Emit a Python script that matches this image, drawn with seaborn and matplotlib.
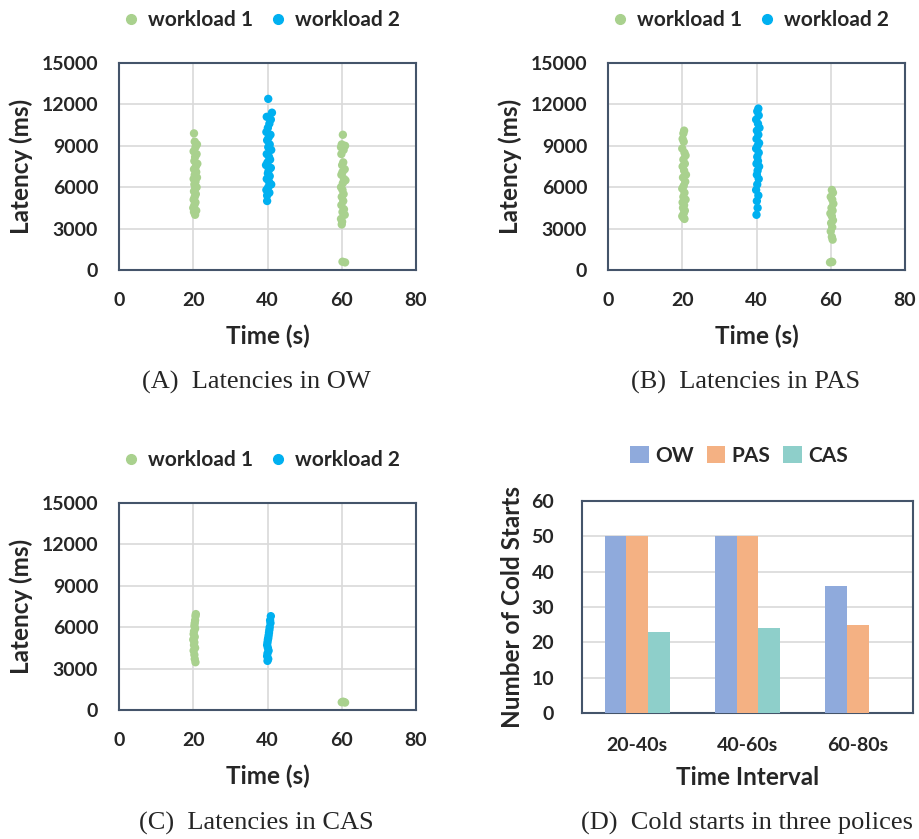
import numpy as np
import pandas as pd
import seaborn as sns
import matplotlib
matplotlib.use("Agg")
import matplotlib.pyplot as plt
from matplotlib.lines import Line2D
from matplotlib.patches import Patch

# ---------------- data ----------------
# Panel A (OW)
a_w1_t20 = [20.2, 20.4, 21.0, 20.6, 20.1, 20.9, 20.5, 20.3, 21.1, 20.7, 20.2, 20.8, 20.4, 21.0, 20.1,
            20.6, 20.3, 20.9, 20.5, 20.2, 20.7, 20.4, 20.1, 20.6, 20.3, 20.0, 20.8, 20.2, 20.5]
a_w1_l20 = [9900, 9300, 9100, 8900, 8600, 8400, 8200, 7900, 7700, 7500, 7300, 7100, 6900, 6700, 6600,
            6400, 6200, 6000, 5900, 5700, 5500, 5300, 5100, 4900, 4700, 4500, 4300, 4200, 4000]
a_w1_t60 = [60.3, 60.0, 60.9, 59.8, 60.5, 59.9, 60.4, 60.1, 60.8, 60.2, 59.9, 60.6, 61.0, 60.3, 59.8,
            60.2, 60.5, 60.0, 60.4, 59.9, 60.6, 60.2, 60.8, 59.8, 60.1, 60.0, 60.2, 60.9]
a_w1_l60 = [9800, 9100, 9000, 8900, 8700, 8400, 7800, 7600, 7300, 7100, 6900, 6600, 6500, 6300, 6000,
            5800, 5500, 5300, 5000, 4700, 4400, 4200, 4000, 3700, 3500, 3300, 600, 550]
a_w2_t40 = [40.2, 41.2, 39.8, 40.9, 40.5, 40.1, 39.7, 40.8, 40.3, 39.9, 40.6, 40.2, 41.0, 39.8, 40.4,
            40.7, 40.0, 39.6, 40.9, 40.3, 40.1, 40.6, 39.8, 40.4, 41.0, 40.2, 39.7, 40.5, 39.9, 39.9]
a_w2_l40 = [12400, 11400, 11100, 10900, 10600, 10300, 10000, 9800, 9600, 9400, 9100, 8900, 8700, 8400, 8200,
            8000, 7800, 7600, 7400, 7200, 7000, 6800, 6600, 6400, 6200, 6000, 5800, 5600, 5400, 5000]

# Panel B (PAS)
b_w1_t20 = [20.5, 20.3, 20.1, 20.4, 20.0, 20.6, 20.9, 20.3, 20.7, 20.1, 20.5, 21.0, 20.2, 20.8, 20.4,
            20.0, 20.6, 20.3, 20.9, 20.1, 20.5, 20.2, 20.7, 20.4, 20.0, 20.3, 20.6]
b_w1_l20 = [10100, 9900, 9500, 9300, 8800, 8500, 8300, 8000, 7700, 7500, 7200, 6900, 6700, 6400, 6100,
            5900, 5600, 5300, 5100, 4900, 4700, 4500, 4300, 4100, 3900, 3800, 3700]
b_w2_t40 = [40.5, 40.2, 40.6, 39.9, 40.4, 40.8, 40.1, 40.5, 40.0, 40.7, 40.3, 39.9, 40.6, 40.2, 40.4,
            40.0, 40.7, 40.3, 40.1, 40.6, 40.2, 39.9, 40.5, 40.1, 40.3, 40.0]
b_w2_l40 = [11700, 11500, 11200, 10900, 10600, 10300, 10100, 9800, 9500, 9200, 9000, 8800, 8500, 8200, 7900,
            7700, 7500, 7200, 6900, 6600, 6200, 5800, 5400, 5000, 4500, 4000]
b_w1_t60 = [60.3, 60.6, 60.0, 60.4, 60.7, 60.2, 60.5, 59.9, 60.3, 60.6, 60.1, 60.4, 60.0, 60.3, 60.5,
            60.2, 59.8, 60.4]
b_w1_l60 = [5800, 5600, 5300, 5100, 4800, 4500, 4300, 4100, 3900, 3600, 3400, 3100, 2800, 2400, 2200,
            600, 550, 580]

# Panel C (CAS)
c_w1_t20 = [20.7, 20.6, 20.5, 20.4, 20.3, 20.5, 20.2, 20.1, 20.4, 20.0, 20.3, 20.2, 20.5, 20.1, 20.3,
            20.4, 20.6]
c_w1_l20 = [6950, 6800, 6500, 6300, 6100, 5900, 5700, 5500, 5300, 5100, 4900, 4700, 4500, 4300, 4000,
            3700, 3460]
c_w2_t40 = [40.9, 40.7, 40.8, 40.6, 40.5, 40.4, 40.3, 40.2, 40.1, 40.0, 39.9, 40.1, 40.3, 40.0, 39.9,
            40.2, 40.0]
c_w2_l40 = [6800, 6500, 6300, 6000, 5800, 5600, 5400, 5200, 5100, 4900, 4700, 4500, 4300, 4100, 3900,
            3700, 3560]
c_w1_t60 = [60.0, 60.3, 60.6, 60.9]
c_w1_l60 = [560, 600, 580, 540]

# Panel D (cold starts)
intervals = ["20-40s", "40-60s", "60-80s"]
policies = ["OW", "PAS", "CAS"]
cold_ow = [50, 50, 36]
cold_pas = [50, 50, 25]
cold_cas = [23, 24, 0]

# -------------- styling --------------
sns.set_style("white")
plt.rcParams["font.family"] = ["Lato", "DejaVu Sans"]
plt.rcParams["font.weight"] = "bold"

W, H = 919, 839
fig = plt.figure(figsize=(W / 100, H / 100), dpi=100)

GREEN = "#a9d18e"
BLUE = "#00b0f0"
SPINE = "#44546a"
GRID = "#d9d9d9"
TICK_FS = 14
LABEL_FS = 17.5
LEG_FS = 15
CAP_FS = 19


def px_axes(left, top, right, bottom):
    return fig.add_axes([left / W, 1 - bottom / H, (right - left) / W, (bottom - top) / H])


def style_axes(ax):
    for s in ax.spines.values():
        s.set_color(SPINE)
        s.set_linewidth(1.5)
    ax.tick_params(length=0, labelsize=TICK_FS)
    for lab in ax.get_xticklabels() + ax.get_yticklabels():
        lab.set_fontweight("bold")


def make_df(parts):
    rows = []
    for t, l, name in parts:
        for ti, li in zip(t, l):
            rows.append({"time": ti, "latency": li, "workload": name})
    return pd.DataFrame(rows)


def scatter_panel(left, top, right, bottom, parts, caption, cap_y):
    ax = px_axes(left, top, right, bottom)
    df = make_df(parts)
    sns.scatterplot(data=df, x="time", y="latency", hue="workload",
                    palette={"workload 1": GREEN, "workload 2": BLUE},
                    s=36, linewidth=0, ax=ax, legend=False, zorder=3)
    ax.set_xlim(0, 80)
    ax.set_ylim(0, 15000)
    ax.set_xticks([0, 20, 40, 60, 80])
    ax.set_yticks([0, 3000, 6000, 9000, 12000, 15000])
    ax.grid(True, color=GRID, linewidth=1.2, zorder=0)
    ax.set_axisbelow(True)
    style_axes(ax)
    ax.tick_params(axis="x", pad=16)
    ax.tick_params(axis="y", pad=15)
    ax.set_xlabel("Time (s)", fontsize=LABEL_FS, fontweight="bold")
    ax.set_ylabel("Latency (ms)", fontsize=LABEL_FS, fontweight="bold")
    hpx = bottom - top
    wpx = right - left
    ax.xaxis.set_label_coords(0.5, -(325 - 270) / hpx)
    ax.yaxis.set_label_coords(-(119 - 33) / wpx, 0.5)
    handles = [Line2D([], [], marker="o", linestyle="", color=GREEN, markersize=7),
               Line2D([], [], marker="o", linestyle="", color=BLUE, markersize=7)]
    cx = (left + right) / 2 / W
    fig.legend(handles, ["workload 1", "workload 2"], loc="center",
               bbox_to_anchor=(cx - 0.008, 1 - (top - 43) / H), ncol=2, frameon=False,
               prop={"size": LEG_FS, "weight": "bold"}, handletextpad=0.3,
               columnspacing=0.7, handlelength=1.0)
    fig.text(cx - 0.012, 1 - cap_y / H, caption, ha="center", va="center",
             fontsize=CAP_FS, family="Liberation Serif", fontweight="normal")
    return ax


scatter_panel(119, 63, 416, 270,
              [(a_w1_t20, a_w1_l20, "workload 1"), (a_w2_t40, a_w2_l40, "workload 2"),
               (a_w1_t60, a_w1_l60, "workload 1")],
              "(A)  Latencies in OW", 382)
scatter_panel(608, 63, 905, 270,
              [(b_w1_t20, b_w1_l20, "workload 1"), (b_w2_t40, b_w2_l40, "workload 2"),
               (b_w1_t60, b_w1_l60, "workload 1")],
              "(B)  Latencies in PAS", 382)
scatter_panel(119, 503, 416, 710,
              [(c_w1_t20, c_w1_l20, "workload 1"), (c_w2_t40, c_w2_l40, "workload 2"),
               (c_w1_t60, c_w1_l60, "workload 1")],
              "(C)  Latencies in CAS", 823)

# Panel D
left, top, right, bottom = 582, 501, 913, 713
axd = px_axes(left, top, right, bottom)
rows = []
for i, iv in enumerate(intervals):
    rows.append({"interval": iv, "policy": "OW", "count": cold_ow[i]})
    rows.append({"interval": iv, "policy": "PAS", "count": cold_pas[i]})
    rows.append({"interval": iv, "policy": "CAS", "count": cold_cas[i]})
dfd = pd.DataFrame(rows)
bar_colors = {"OW": "#8faadc", "PAS": "#f4b183", "CAS": "#8ecfca"}
sns.barplot(data=dfd, x="interval", y="count", hue="policy", hue_order=policies,
            palette=bar_colors, saturation=1, width=0.59, linewidth=0, ax=axd,
            legend=False, zorder=3)
axd.set_ylim(0, 60)
axd.set_yticks(range(0, 61, 10))
axd.yaxis.grid(True, color=GRID, linewidth=1.2, zorder=0)
axd.xaxis.grid(False)
axd.set_axisbelow(True)
style_axes(axd)
axd.tick_params(axis="x", pad=17)
axd.tick_params(axis="y", pad=20)
axd.set_xlabel("Time Interval", fontsize=LABEL_FS, fontweight="bold")
axd.set_ylabel("Number of Cold Starts", fontsize=LABEL_FS, fontweight="bold")
axd.xaxis.set_label_coords(0.5, -(766 - 713) / (bottom - top))
axd.yaxis.set_label_coords(-(582 - 524) / (right - left), 0.5)
handles = [Patch(facecolor=bar_colors[p], edgecolor="none") for p in policies]
fig.legend(handles, policies, loc="center", bbox_to_anchor=(739 / W, 1 - 456 / H), ncol=3,
           frameon=False, prop={"size": LEG_FS, "weight": "bold"}, handletextpad=0.3,
           columnspacing=0.6, handlelength=0.9, handleheight=0.9)
fig.text(747 / W, 1 - 823 / H, "(D)  Cold starts in three polices", ha="center", va="center",
         fontsize=CAP_FS, family="Liberation Serif", fontweight="normal")

fig.savefig("out.png", dpi=100)
